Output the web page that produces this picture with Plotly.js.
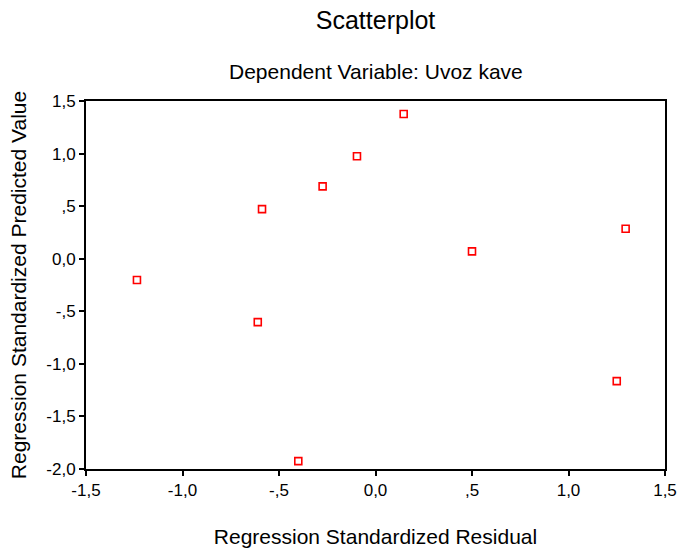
<!DOCTYPE html>
<html>
<head>
<meta charset="utf-8">
<script src="https://cdn.plot.ly/plotly-3.0.1.min.js"></script>
<style>html,body{margin:0;padding:0;background:#fff;}#chart{width:678px;height:556px;}</style>
</head>
<body>
<div id="chart"></div>
<script>
const residual = [0.146, -0.096, -0.274, -0.588, 1.296, 0.500, 1.250, -1.236, -0.610, -0.400];
const predicted = [1.376, 0.974, 0.688, 0.472, 0.285, 0.070, -1.164, -0.203, -0.603, -1.925];
const tickVals = [-2.0, -1.5, -1.0, -0.5, 0.0, 0.5, 1.0, 1.5];
const yTickText = ['-2,0', '-1,5', '-1,0', '-,5', '0,0', ',5', '1,0', '1,5'];
const xTickVals = [-1.5, -1.0, -0.5, 0.0, 0.5, 1.0, 1.5];
const xTickText = ['-1,5', '-1,0', '-,5', '0,0', ',5', '1,0', '1,5'];

const font = 'Liberation Sans, Arial, sans-serif';
const trace = {
  x: residual, y: predicted, type: 'scatter', mode: 'markers',
  marker: {symbol: 'square-open', size: 7, color: '#ff0000', line: {width: 1.6, color: '#ff0000'}},
  hoverinfo: 'x+y', showlegend: false
};
const layout = {
  width: 678, height: 556,
  margin: {l: 86, r: 13, t: 101, b: 87},
  paper_bgcolor: '#ffffff', plot_bgcolor: '#ffffff',
  font: {family: font, color: '#000000', size: 17},
  title: {text: 'Scatterplot', font: {size: 25, family: font, color: '#000'}, x: 0.5539, xanchor: 'center', xref: 'container', y: 0.964, yanchor: 'middle', yref: 'container'},
  annotations: [{text: 'Dependent Variable: Uvoz kave', xref: 'paper', yref: 'paper', x: 0.5, y: 1.0815, xanchor: 'center', yanchor: 'middle', showarrow: false, font: {size: 21, family: font, color: '#000'}}],
  xaxis: {
    range: [-1.5, 1.5], tickvals: xTickVals, ticktext: xTickText,
    ticks: 'outside', ticklen: 5, tickwidth: 1.5, tickcolor: '#000',
    showline: true, linewidth: 2, linecolor: '#000', mirror: true,
    showgrid: false, zeroline: false,
    tickfont: {size: 17, family: font, color: '#000'},
    title: {text: 'Regression Standardized Residual', font: {size: 21, family: font, color: '#000'}, standoff: 30}
  },
  yaxis: {
    range: [-2.0, 1.5], tickvals: tickVals, ticktext: yTickText,
    ticks: 'outside', ticklen: 5, tickwidth: 1.5, tickcolor: '#000',
    showline: true, linewidth: 2, linecolor: '#000', mirror: true,
    showgrid: false, zeroline: false,
    tickfont: {size: 17, family: font, color: '#000'},
    title: {text: 'Regression Standardized Predicted Value', font: {size: 21, family: font, color: '#000'}, standoff: 14}
  }
};
Plotly.newPlot('chart', [trace], layout, {displayModeBar: false, staticPlot: false});
</script>
</body>
</html>
